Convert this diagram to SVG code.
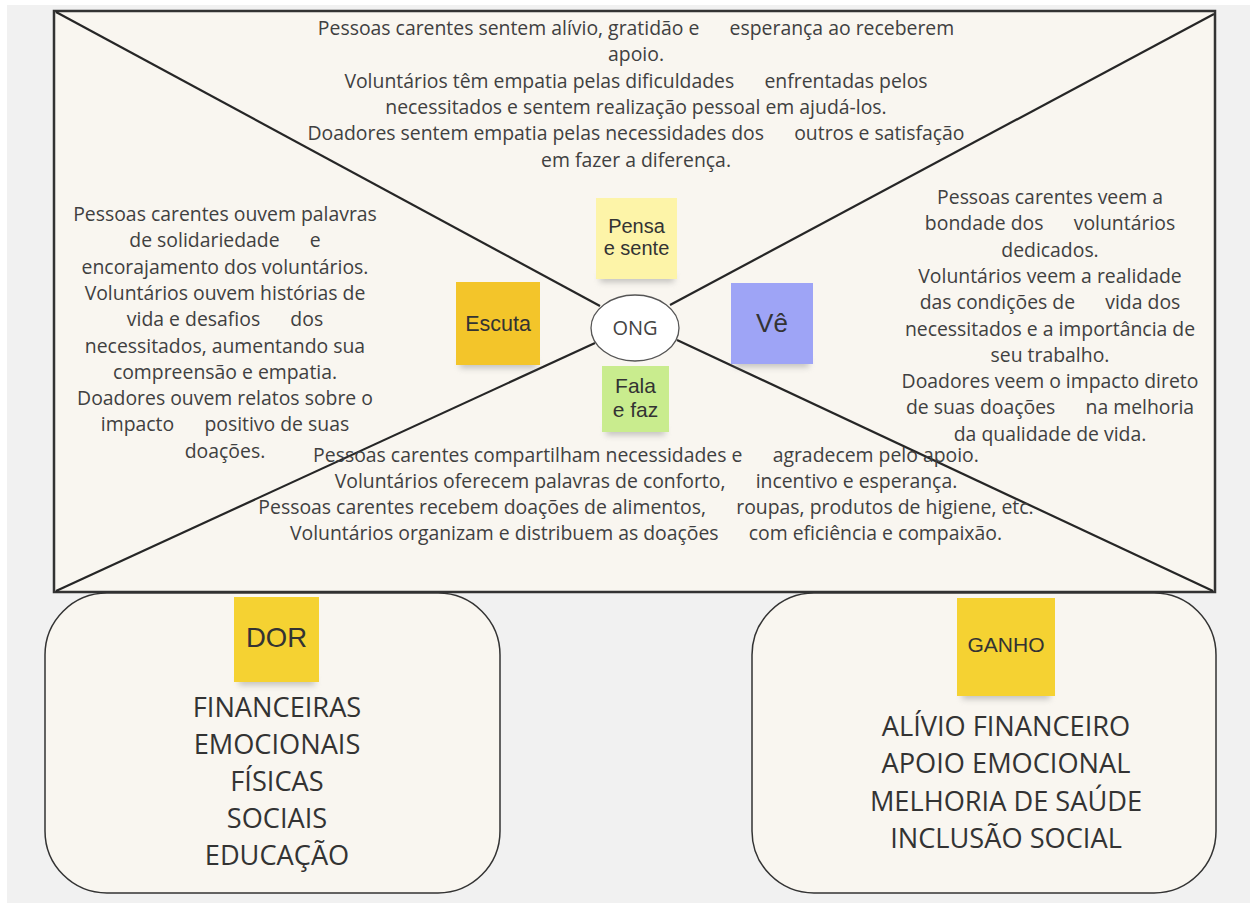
<svg xmlns="http://www.w3.org/2000/svg" width="1250" height="903" viewBox="0 0 1250 903">
<style>
.body{font-family:"Open Sans","Liberation Sans",sans-serif;font-size:19.4px;fill:#404040;text-anchor:middle;white-space:pre}
.list{font-family:"Open Sans","Liberation Sans",sans-serif;font-size:27.2px;fill:#333;text-anchor:middle}
.stk{font-family:"Liberation Sans",Arial,sans-serif;fill:#333;text-anchor:middle}
.line{stroke:#262626;stroke-width:2.2;fill:none}
.cream{fill:#f9f6f0}
</style>
<defs>
<filter id="sh" x="-30%" y="-100%" width="160%" height="300%"><feGaussianBlur stdDeviation="3"/></filter>
</defs>
<rect x="0" y="0" width="1250" height="903" fill="#ffffff"/>
<rect x="7" y="5" width="1243" height="898" fill="#f1f1f1"/>
<g id="canvas">
<rect x="54" y="11" width="1161" height="581" class="cream" stroke="#333" stroke-width="2.5"/>
</g>
<g id="connectors">
<line class="line" x1="56" y1="12" x2="600" y2="306"/>
<line class="line" x1="1214" y1="14" x2="670" y2="305"/>
<line class="line" x1="56" y1="591" x2="595" y2="343"/>
<line class="line" x1="677" y1="340" x2="1213" y2="591"/>
</g>
<g id="ong">
<ellipse cx="635" cy="328" rx="44" ry="33" fill="#fff" stroke="#555" stroke-width="1.3"/>
<text x="635" y="335" font-family="'Open Sans','Liberation Sans',sans-serif" font-size="20" fill="#444" text-anchor="middle">ONG</text>
</g>
<g id="pensa-sente-text">
<text class="body" x="636" y="35">Pessoas carentes sentem alívio, gratidão e      esperança ao receberem</text>
<text class="body" x="636" y="61.3">apoio.</text>
<text class="body" x="636" y="87.6">Voluntários têm empatia pelas dificuldades      enfrentadas pelos</text>
<text class="body" x="636" y="113.9">necessitados e sentem realização pessoal em ajudá-los.</text>
<text class="body" x="636" y="140.2">Doadores sentem empatia pelas necessidades dos      outros e satisfação</text>
<text class="body" x="636" y="166.5">em fazer a diferença.</text>
</g>
<g id="escuta-text">
<text class="body" x="225" y="221">Pessoas carentes ouvem palavras</text>
<text class="body" x="225" y="247.3">de solidariedade      e</text>
<text class="body" x="225" y="273.6">encorajamento dos voluntários.</text>
<text class="body" x="225" y="299.9">Voluntários ouvem histórias de</text>
<text class="body" x="225" y="326.2">vida e desafios      dos</text>
<text class="body" x="225" y="352.5">necessitados, aumentando sua</text>
<text class="body" x="225" y="378.8">compreensão e empatia.</text>
<text class="body" x="225" y="405.1">Doadores ouvem relatos sobre o</text>
<text class="body" x="225" y="431.4">impacto      positivo de suas</text>
<text class="body" x="225" y="457.7">doações.</text>
</g>
<g id="ve-text">
<text class="body" x="1050" y="204">Pessoas carentes veem a</text>
<text class="body" x="1050" y="230.3">bondade dos      voluntários</text>
<text class="body" x="1050" y="256.6">dedicados.</text>
<text class="body" x="1050" y="282.9">Voluntários veem a realidade</text>
<text class="body" x="1050" y="309.2">das condições de      vida dos</text>
<text class="body" x="1050" y="335.5">necessitados e a importância de</text>
<text class="body" x="1050" y="361.8">seu trabalho.</text>
<text class="body" x="1050" y="388.1">Doadores veem o impacto direto</text>
<text class="body" x="1050" y="414.4">de suas doações      na melhoria</text>
<text class="body" x="1050" y="440.7">da qualidade de vida.</text>
</g>
<g id="fala-faz-text">
<text class="body" x="646" y="462">Pessoas carentes compartilham necessidades e      agradecem pelo apoio.</text>
<text class="body" x="646" y="488">Voluntários oferecem palavras de conforto,      incentivo e esperança.</text>
<text class="body" x="646" y="514">Pessoas carentes recebem doações de alimentos,      roupas, produtos de higiene, etc.</text>
<text class="body" x="646" y="540">Voluntários organizam e distribuem as doações      com eficiência e compaixão.</text>
</g>
<g id="sticky-pensa">
<rect x="600" y="274" width="74" height="8" fill="#888" opacity="0.5" filter="url(#sh)"/>
<rect x="596" y="198" width="81" height="81" fill="#fdf4a8"/>
<text class="stk" font-size="20" x="636.5" y="233">Pensa</text>
<text class="stk" font-size="20" x="636.5" y="255">e sente</text>
</g>
<g id="sticky-escuta">
<rect x="460" y="360" width="76" height="8" fill="#888" opacity="0.5" filter="url(#sh)"/>
<rect x="456" y="282" width="84" height="83" fill="#f3c52a"/>
<text class="stk" font-size="21.5" x="498" y="331">Escuta</text>
</g>
<g id="sticky-ve">
<rect x="735" y="359" width="74" height="8" fill="#888" opacity="0.5" filter="url(#sh)"/>
<rect x="731" y="283" width="82" height="81" fill="#9ea4f6"/>
<text class="stk" font-size="26" x="772" y="332">Vê</text>
</g>
<g id="sticky-fala">
<rect x="606" y="427" width="59" height="8" fill="#888" opacity="0.5" filter="url(#sh)"/>
<rect x="602" y="366" width="67" height="66" fill="#c9ec8e"/>
<text class="stk" font-size="21" x="635.5" y="393">Fala</text>
<text class="stk" font-size="21" x="635.5" y="417">e faz</text>
</g>
<g id="dor">
<rect x="45" y="593" width="455" height="300" rx="62" class="cream" stroke="#333" stroke-width="1.5"/>
<rect x="239" y="677" width="76" height="8" fill="#888" opacity="0.5" filter="url(#sh)"/>
<rect x="234" y="597" width="85" height="85" fill="#f5d232"/>
<text class="stk" font-size="27.5" x="276.5" y="647">DOR</text>
<text class="list" x="277" y="717">FINANCEIRAS</text>
<text class="list" x="277" y="754">EMOCIONAIS</text>
<text class="list" x="277" y="791">FÍSICAS</text>
<text class="list" x="277" y="828">SOCIAIS</text>
<text class="list" x="277" y="865">EDUCAÇÃO</text>
</g>
<g id="ganho">
<rect x="752" y="593" width="464" height="300" rx="62" class="cream" stroke="#333" stroke-width="1.5"/>
<rect x="962" y="691" width="88" height="8" fill="#888" opacity="0.5" filter="url(#sh)"/>
<rect x="957" y="598" width="98" height="98" fill="#f5d232"/>
<text class="stk" font-size="21" x="1006" y="652">GANHO</text>
<text class="list" x="1006" y="736">ALÍVIO FINANCEIRO</text>
<text class="list" x="1006" y="773">APOIO EMOCIONAL</text>
<text class="list" x="1006" y="811">MELHORIA DE SAÚDE</text>
<text class="list" x="1006" y="848">INCLUSÃO SOCIAL</text>
</g>
</svg>
